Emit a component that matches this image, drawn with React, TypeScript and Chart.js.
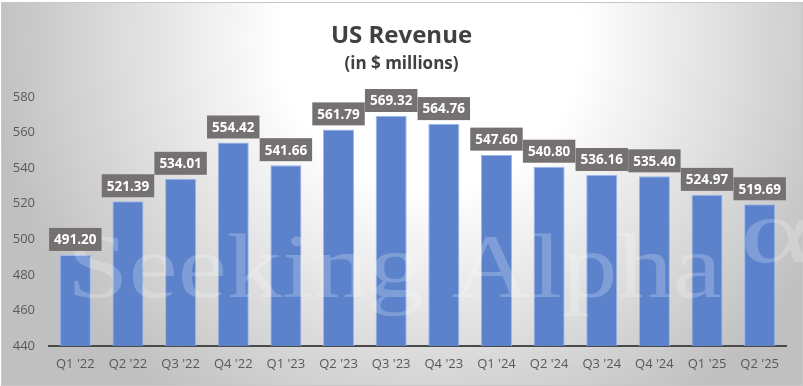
import { useEffect, useRef } from "react";
import { Chart, registerables } from "chart.js";

Chart.register(...registerables);

const categories = ["Q1 '22", "Q2 '22", "Q3 '22", "Q4 '22", "Q1 '23", "Q2 '23", "Q3 '23", "Q4 '23", "Q1 '24", "Q2 '24", "Q3 '24", "Q4 '24", "Q1 '25", "Q2 '25"];
const revenue = [491.2, 521.39, 534.01, 554.42, 541.66, 561.79, 569.32, 564.76, 547.6, 540.8, 536.16, 535.4, 524.97, 519.69];
const yMin = 440;
const yMax = 580;
const yStep = 20;
const titleText = "US Revenue";
const subtitleText = "(in $ millions)";

const FONT = "'Open Sans', 'Noto Sans', sans-serif";

const backgroundPlugin = {
  id: "bgPlugin",
  beforeDraw(chart: any) {
    const ctx = chart.ctx as CanvasRenderingContext2D;
    const w = chart.width;
    const h = chart.height;
    ctx.save();
    ctx.fillStyle = "#ffffff";
    ctx.fillRect(0, 0, w, h);
    const g = ctx.createRadialGradient(430, 40, 0, 430, 40, 440);
    g.addColorStop(0, "#ffffff");
    g.addColorStop(150 / 440, "#ffffff");
    g.addColorStop(1, "#c0c0c0");
    ctx.fillStyle = g;
    ctx.fillRect(2, 3, w - 3, h - 4);
    ctx.strokeStyle = "#c8c8c8";
    ctx.lineWidth = 1;
    ctx.strokeRect(1.5, 2.5, w - 2, h - 3);
    // title
    ctx.fillStyle = "#404040";
    ctx.textAlign = "center";
    ctx.textBaseline = "alphabetic";
    ctx.font = `bold 24px ${FONT}`;
    ctx.fillText(titleText, w / 2, 43);
    ctx.font = `bold 17px ${FONT}`;
    ctx.fillText(subtitleText, w / 2, 69);
    ctx.restore();
  },
  afterDatasetsDraw(chart: any) {
    const ctx = chart.ctx as CanvasRenderingContext2D;
    ctx.save();
    // watermark
    ctx.fillStyle = "rgba(255,255,255,0.22)";
    ctx.textAlign = "left";
    ctx.textBaseline = "alphabetic";
    ctx.font = `90px 'Liberation Serif', 'DejaVu Serif', serif`;
    const wm = "Seeking Alpha";
    const mw = ctx.measureText(wm).width;
    const sx = 655 / mw;
    ctx.save();
    ctx.translate(67, 297);
    ctx.scale(sx, 1);
    ctx.fillText(wm, 0, 0);
    ctx.restore();
    ctx.save();
    ctx.translate(740, 262);
    ctx.scale(1.5, 1);
    ctx.font = `92px 'Liberation Serif', 'DejaVu Serif', serif`;
    ctx.fillText("\u03b1", 0, 0);
    ctx.restore();
    // data labels
    const meta = chart.getDatasetMeta(0);
    ctx.font = `bold 13.5px ${FONT}`;
    ctx.textAlign = "center";
    ctx.textBaseline = "middle";
    meta.data.forEach((el: any, i: number) => {
      const txt = revenue[i].toFixed(2);
      const tw = ctx.measureText(txt).width;
      const bw = tw + 10;
      const bh = 23;
      const bottom = el.y - 4;
      ctx.fillStyle = "#767171";
      ctx.fillRect(el.x - bw / 2, bottom - bh, bw, bh);
      ctx.fillStyle = "#ffffff";
      ctx.fillText(txt, el.x, bottom - bh / 2 + 1);
    });
    ctx.restore();
  },
};

export default function App() {
  const ref = useRef<HTMLCanvasElement | null>(null);
  useEffect(() => {
    document.body.style.margin = "0";
    if (!ref.current) return;
    const chart = new Chart(ref.current, {
      type: "bar",
      data: {
        labels: categories,
        datasets: [
          {
            data: revenue,
            backgroundColor: "#5b82cb",
            borderColor: "#9ab8ec",
            borderWidth: 1,
            barPercentage: 0.59,
            categoryPercentage: 1,
          },
        ],
      },
      plugins: [backgroundPlugin],
      options: {
        responsive: false,
        animation: false,
        layout: { padding: { top: 97, right: 17, left: 0, bottom: 0 } },
        plugins: {
          legend: { display: false },
          title: { display: false },
          tooltip: { enabled: false },
        },
        scales: {
          x: {
            grid: { display: false, drawTicks: false },
            border: { display: true, color: "#4a4a4a", width: 2 },
            ticks: { color: "#595959", font: { family: FONT, size: 13 }, padding: 10, maxRotation: 0, autoSkip: false },
            afterFit(scale: any) {
              scale.height = 40;
            },
          },
          y: {
            min: yMin,
            max: yMax,
            grid: { display: false, drawTicks: false },
            border: { display: false },
            ticks: { stepSize: yStep, color: "#595959", font: { family: FONT, size: 13 }, padding: 14 },
            afterFit(scale: any) {
              scale.width = 49;
            },
          },
        },
      },
    });
    return () => chart.destroy();
  }, []);
  return (
    <div style={{ width: 803, height: 386 }}>
      <canvas ref={ref} width={803} height={386} style={{ display: "block" }} />
    </div>
  );
}
